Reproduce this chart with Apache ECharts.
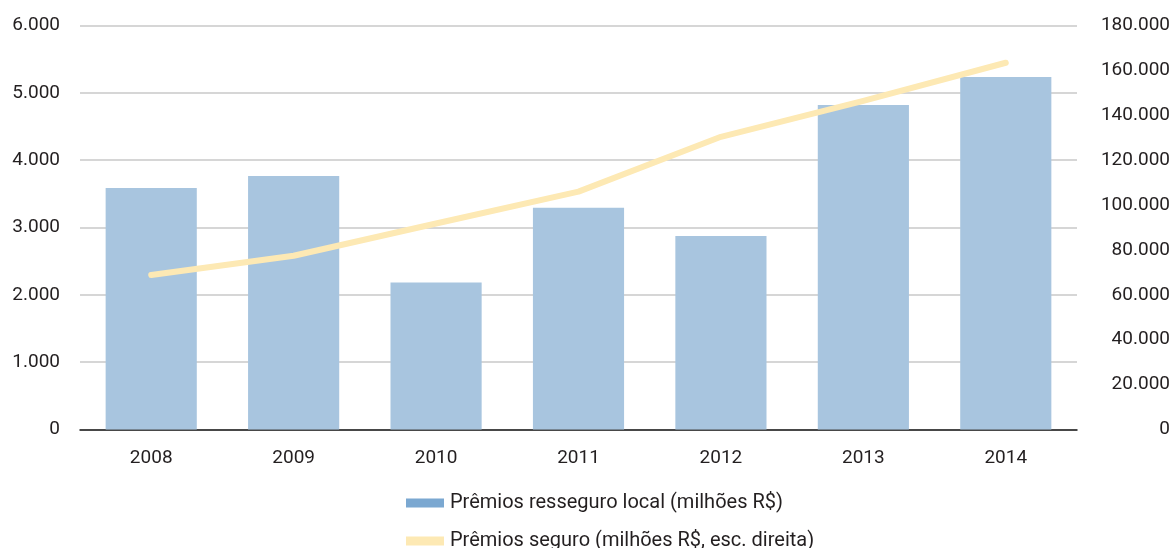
<!DOCTYPE html>
<html>
<head>
<meta charset="utf-8">
<script src="https://cdn.jsdelivr.net/npm/echarts@6/dist/echarts.min.js"></script>
<style>
  html, body { margin: 0; padding: 0; background: #ffffff; }
  #chart { width: 1173px; height: 548px; }
</style>
</head>
<body>
<div id="chart"></div>
<script>
// Anos
const years = ['2008', '2009', '2010', '2011', '2012', '2013', '2014'];
// Prêmios de resseguro local (milhões R$), eixo esquerdo
const resseguroLocal = [3585, 3765, 2185, 3295, 2875, 4820, 5235];
// Prêmios de seguro (milhões R$), eixo direito
const premiosSeguro = [68800, 77400, 91800, 106000, 130400, 146400, 163400];

const nameResseguro = 'Prêmios resseguro local (milhões R$)';
const nameSeguro = 'Prêmios seguro (milhões R$, esc. direita)';

// separador de milhar com ponto
function fmt(v) {
  return String(v).replace(/\B(?=(\d{3})+(?!\d))/g, '.');
}

const font = 'Roboto';
const textColor = '#231f20';

// uma legenda por série, empilhadas
function legendItem(name, color, top) {
  return {
    left: 401,
    top: top,
    itemWidth: 38,
    itemHeight: 9,
    icon: 'rect',
    textStyle: { fontFamily: font, fontSize: 20, color: textColor, padding: [0, 0, 0, 1] },
    data: [{ name: name, itemStyle: { color: color } }]
  };
}

const chart = echarts.init(document.getElementById('chart'), null, { renderer: 'canvas' });
chart.setOption({
  animation: false,
  backgroundColor: '#ffffff',
  textStyle: { fontFamily: font },
  grid: { left: 80, right: 96, top: 25.5, bottom: 118.5, containLabel: false },
  legend: [
    legendItem(nameResseguro, '#7ba8d1', 488),
    legendItem(nameSeguro, '#fde9b4', 526)
  ],
  xAxis: {
    type: 'category',
    data: years,
    axisLine: { show: true, lineStyle: { color: '#1a1a1a', width: 1.5 } },
    axisTick: { show: false },
    axisLabel: { color: textColor, fontSize: 19, fontFamily: font, margin: 19 }
  },
  yAxis: [
    {
      type: 'value',
      min: 0, max: 6000, interval: 1000,
      axisLine: { show: false },
      axisTick: { show: false },
      splitLine: { show: true, lineStyle: { color: '#c8c8c8', width: 1.5 } },
      axisLabel: { color: textColor, fontSize: 19, fontFamily: font, margin: 20, formatter: fmt }
    },
    {
      type: 'value',
      min: 0, max: 180000, interval: 20000,
      position: 'right',
      axisLine: { show: false },
      axisTick: { show: false },
      splitLine: { show: false },
      axisLabel: { color: textColor, fontSize: 19, fontFamily: font, align: 'right', margin: 93, formatter: fmt }
    }
  ],
  series: [
    {
      name: nameResseguro,
      type: 'bar',
      yAxisIndex: 0,
      data: resseguroLocal,
      barWidth: '64%',
      itemStyle: { color: '#a8c5df' },
      z: 2
    },
    {
      name: nameSeguro,
      type: 'line',
      yAxisIndex: 1,
      data: premiosSeguro,
      showSymbol: false,
      symbol: 'none',
      lineStyle: { color: '#fde9b4', width: 6, cap: 'round', join: 'round' },
      itemStyle: { color: '#fde9b4' },
      z: 3
    }
  ]
});
</script>
</body>
</html>
